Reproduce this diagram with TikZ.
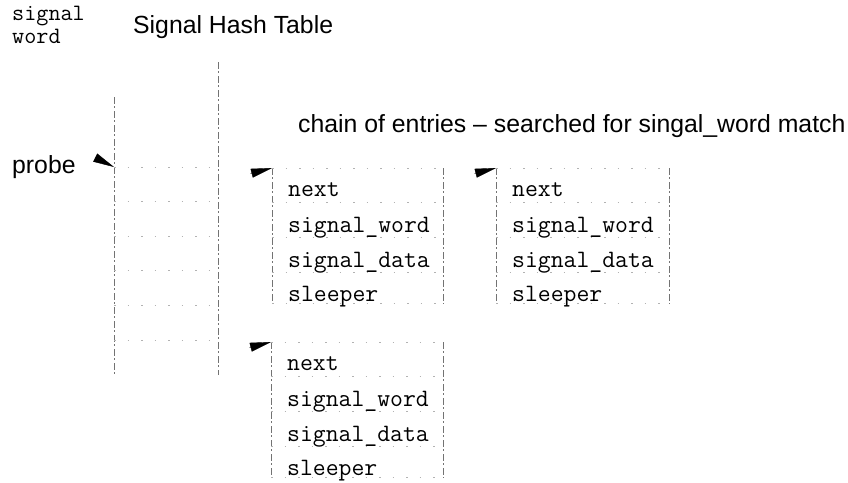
\documentclass[tikz,border=0pt]{standalone}
\usepackage{fontspec}
\newfontfamily\labelsans{Liberation Sans}
\usetikzlibrary{arrows.meta,calc}

\begin{document}
\begin{tikzpicture}[x=1pt,y=-1pt,
  faint/.style={draw=black!55,line width=0.6pt,dash pattern=on 7pt off 2pt on 2pt off 3pt},
  sepline/.style={draw=black!30,line width=0.6pt,dash pattern=on 1.5pt off 12pt},
  frame/.style={draw=none,inner sep=0pt,anchor=north west},
  mono/.style={font=\fontsize{25}{25}\selectfont\ttfamily,anchor=base west,inner sep=0pt},
  heading/.style={font=\fontsize{24.8}{28}\selectfont\labelsans,anchor=base west,inner sep=0pt},
  headarrow/.style={-{Triangle[length=21pt,width=9pt]},line width=0.4pt,black}
]
\useasboundingbox (0,0) rectangle (848,482);

% titles
\node[mono,font=\fontsize{23.5}{24}\selectfont\ttfamily] (sw1) at (12,20) {signal};
\node[mono,font=\fontsize{23.5}{24}\selectfont\ttfamily] (sw2) at (12,43) {word};
\node[heading] (title) at (133,33) {Signal Hash Table};
\node[heading] (probe) at (12,173) {probe};
\node[heading] (chain) at (298,132) {chain of entries – searched for singal\_word match};

% hash table
\node[frame,minimum width=104pt,minimum height=313pt] (ht) at (114,62) {};
\coordinate (htl) at ($(ht.north west)+(0,35)$);
\draw[faint] (htl) -- (ht.south west);
\draw[faint] (ht.north east) -- (ht.south east);
\foreach \r in {105,139,174,208,243,278}
  \draw[sepline] ($(ht.north west)+(0,\r)$) -- ($(ht.north east)+(0,\r)$);

% probe pointer
\coordinate (probetail) at (95,157.5);
\coordinate (probetip) at ($(ht.north west)+(0,105)$);
\draw[headarrow] (probetail) -- (probetip);

% chain entries
\foreach \e/\x/\y/\w in {e1/272/168/171, e2/496/168/173, e3/271/342/172} {
  \node[frame,minimum width=\w pt,minimum height=135pt] (\e) at (\x,\y) {};
  \draw[faint] (\e.north west) -- (\e.south west);
  \draw[faint] (\e.north east) -- (\e.south east);
  \draw[sepline] (\e.north west) -- (\e.north east);
  \draw[sepline] (\e.south west) -- (\e.south east);
  \foreach \r in {34,69,104}
    \draw[sepline] ($(\e.north west)+(0,\r)$) -- ($(\e.north east)+(0,\r)$);
  \node[mono] (\e next) at ($(\e.north west)+(16,28)$) {next};
  \node[mono] (\e word) at ($(\e.north west)+(16,64)$) {signal\_word};
  \node[mono] (\e data) at ($(\e.north west)+(16,99)$) {signal\_data};
  \node[mono] (\e sleep) at ($(\e.north west)+(16,133)$) {sleeper};
  \coordinate (\e tail) at ($(\e.north west)+(-21.5,5.5)$);
  \draw[headarrow] (\e tail) -- (\e.north west);
}
\end{tikzpicture}
\end{document}
